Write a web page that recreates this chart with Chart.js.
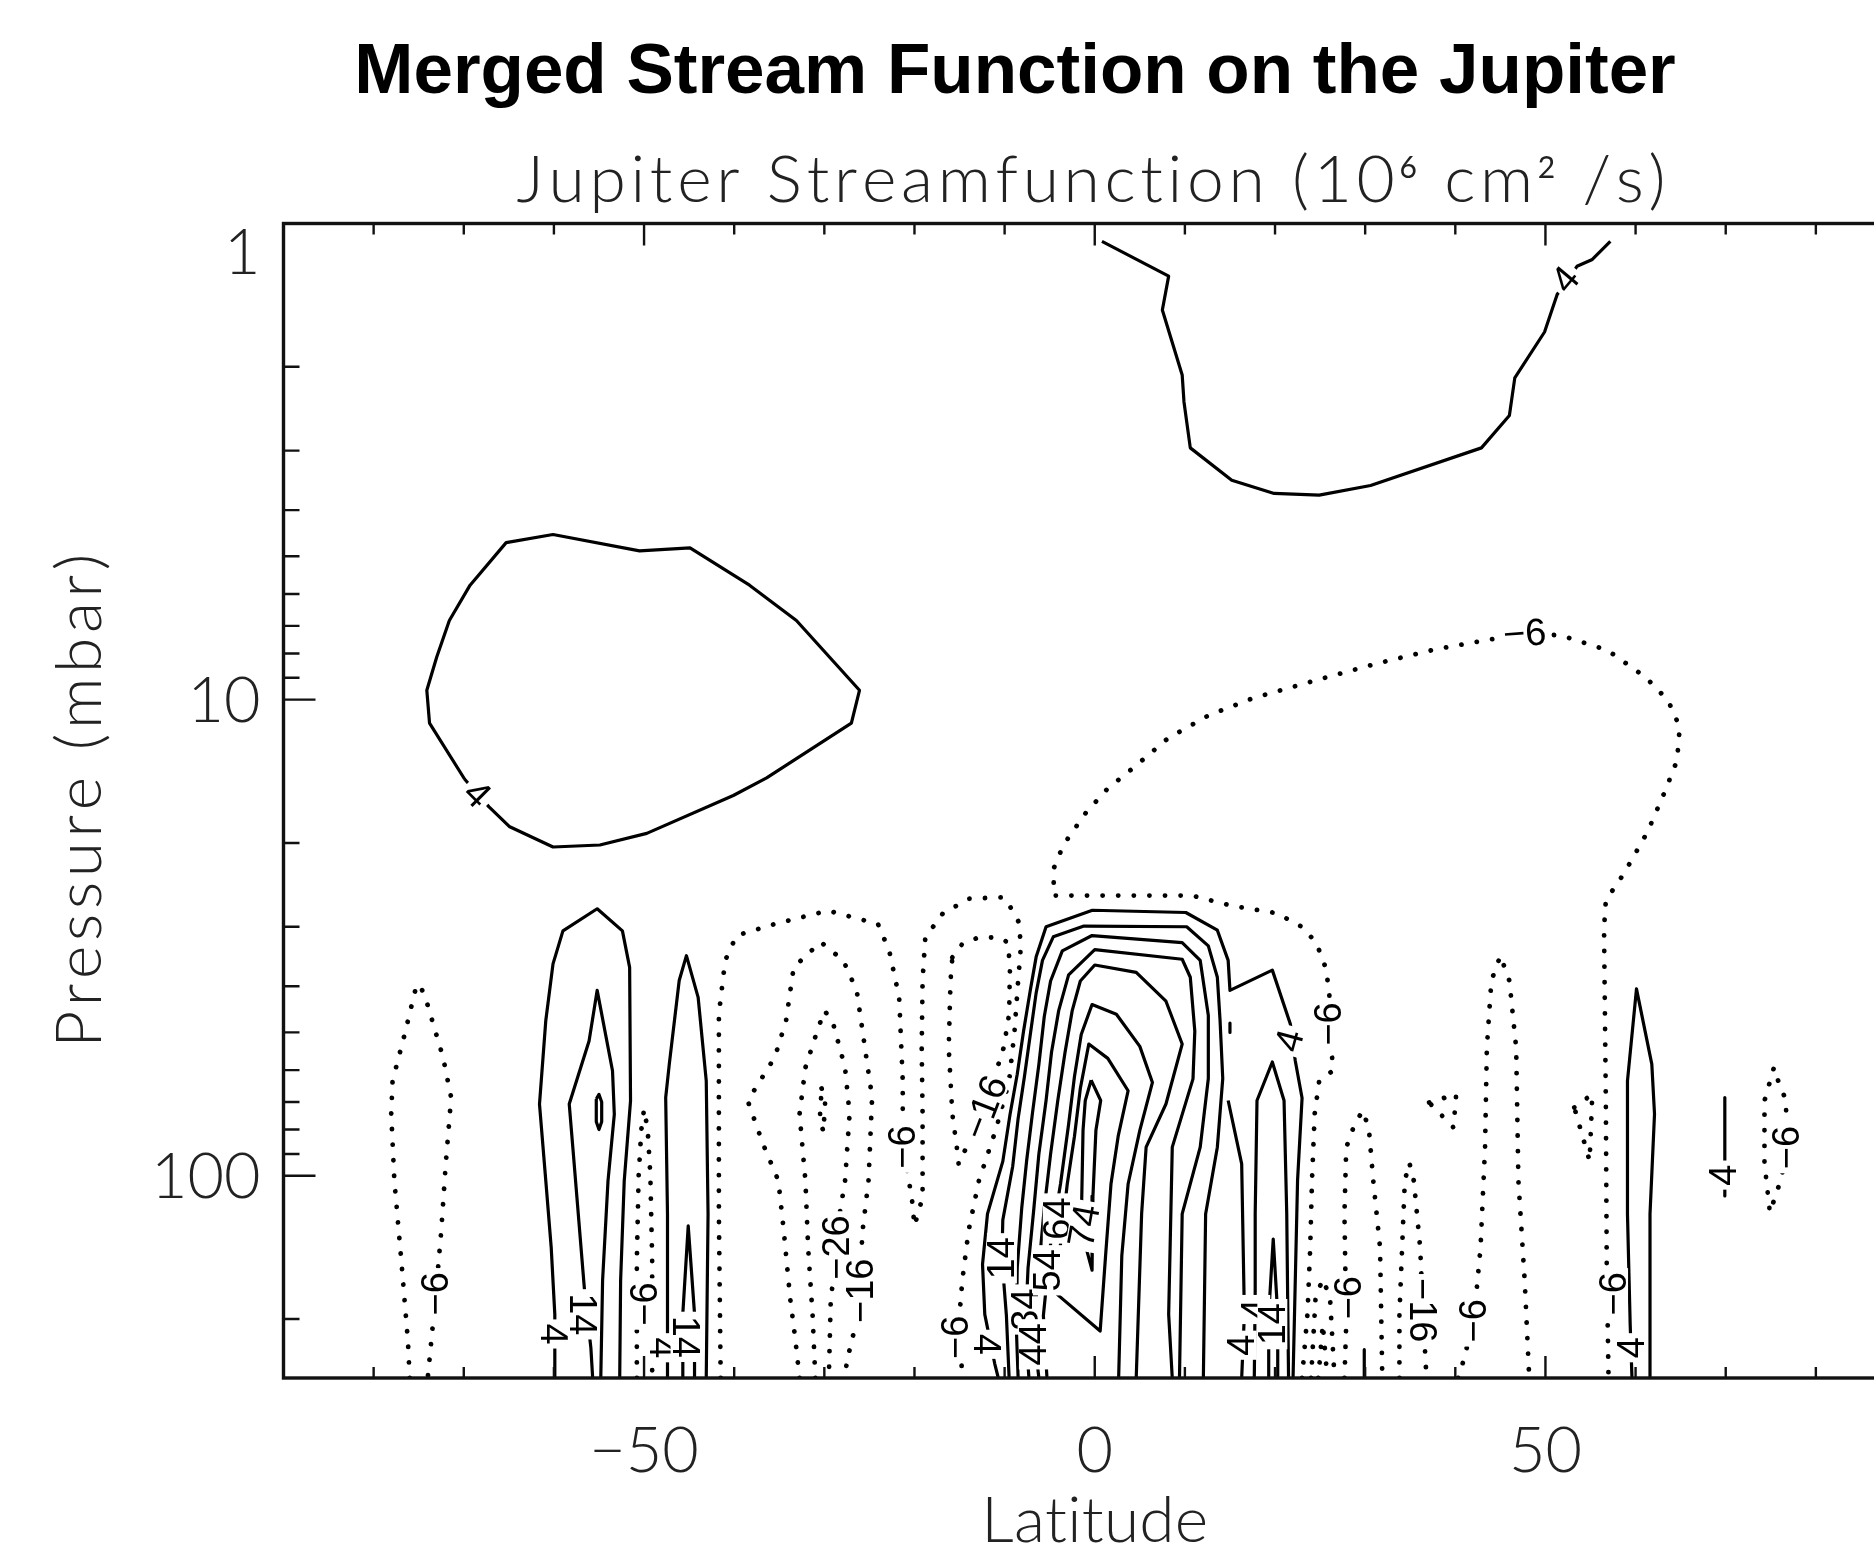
<!DOCTYPE html>
<html>
<head>
<meta charset="utf-8">
<script src="https://cdn.jsdelivr.net/npm/chart.js@4.4.1/dist/chart.umd.min.js"></script>
<style>
  html, body { margin: 0; padding: 0; background: #fff; overflow: hidden; }
  #wrap { width: 1874px; height: 1549px; overflow: hidden; }
  canvas { display: block; }
</style>
</head>
<body>
<div id="wrap"><canvas id="streamChart" width="2030" height="1549"></canvas></div>
<script>
// axis ticks and labels
const latTicks = [-80, -70, -60, -50, -40, -30, -20, -10, 0, 10, 20, 30, 40, 50, 60, 70, 80];
const latLabels = [-50, 0, 50];
const pressureTicks = [1, 2, 3, 4, 5, 6, 7, 8, 9, 10, 20, 30, 40, 50, 60, 70, 80, 90, 100, 200];
const pressureLabels = [1, 10, 100];

// contour lines, [latitude, pressure mbar]
const psiTop4 = [[0.8,1.09],[8.2,1.29],[7.5,1.52],[9.7,2.08],[9.9,2.37],[10.6,2.96],[15.2,3.46],[19.9,3.69],[24.9,3.72],[30.6,3.55],[42.9,2.96],[46.0,2.53],[46.6,2.11],[49.9,1.69],[51.3,1.41],[53.5,1.23],[55.2,1.19],[57.2,1.09]];
const psiWest4 = [[-69.9,14.7],[-73.8,11.2],[-74.1,9.56],[-73.0,8.14],[-71.6,6.82],[-69.3,5.75],[-65.3,4.68],[-60.1,4.50],[-50.5,4.87],[-44.9,4.80],[-38.3,5.75],[-33.1,6.82],[-26.1,9.56],[-27.0,11.2],[-36.4,14.6],[-40.1,15.9],[-49.7,19.1],[-54.9,20.2],[-60.1,20.4],[-64.9,18.5],[-67.2,16.8],[-69.9,14.7]];
const psiArchNeg6 = [[23.0,266],[23.6,195],[23.9,142],[24.1,102.5],[24.4,74.1],[24.9,63.2],[26.4,60.2],[26.0,40.8],[25.6,36.5],[24.6,32.5],[23.1,30.1],[20.2,28.1],[15.2,27.1],[10.8,25.8],[-4.6,25.8],[-4.5,22.5],[-3.8,20.9],[-3.0,19.6],[-1.0,17.3],[1.4,15.4],[4.2,13.95],[8.1,12.07],[12.6,10.8],[17.5,9.94],[24.5,9.11],[31.4,8.39],[37.8,7.84],[43.3,7.51],[47.7,7.26],[51.7,7.33],[56.9,7.88],[61.1,8.97],[63.6,10.04],[64.9,11.42],[64.6,13.42],[63.3,15.52],[61.3,19.0],[58.7,23.2],[56.7,26.4],[56.5,30.3],[56.7,69.6],[56.8,154.6],[56.9,202],[57.0,266]];
const psiFarWestNeg6 = [[-76.0,266],[-76.2,222],[-76.9,153],[-77.7,102.5],[-78.05,74.2],[-77.9,63.2],[-76.6,50.8],[-75.3,40.2],[-74.9,39.6],[-74.2,42.6],[-72.3,56.4],[-71.4,68.5],[-72.0,94.5],[-72.5,130.6],[-73.1,177],[-73.6,222],[-74.0,266]];
const psiSouth4 = [[-59.9,266],[-59.9,237],[-59.9,195.5],[-60.3,141.6],[-60.9,102.5],[-61.6,70.7],[-60.9,47.2],[-60.1,35.9],[-59.0,30.6],[-55.2,27.5],[-52.4,30.6],[-51.6,36.5],[-51.5,69.6],[-52.2,102.5],[-52.6,166],[-52.7,266]];
const psiSouth14 = [[-55.7,266],[-55.9,230],[-56.6,174.6],[-57.9,87.3],[-58.3,70.7],[-56.1,52.1],[-55.2,40.8],[-53.5,60.2],[-53.3,74.3],[-54.0,102.5],[-54.6,166],[-54.8,266]];
const psiSouth24 = [[-55.3,69],[-55.0,67.5],[-54.7,70],[-54.7,77],[-55.0,80],[-55.3,77],[-55.3,69]];
const psiNarrowNeg6 = [[-50.8,266],[-50.8,150],[-50.6,100],[-50.3,80],[-50.0,72.5],[-49.6,80],[-49.3,100],[-49.1,150],[-49.1,266]];
const psiMid4 = [[-47.4,266],[-47.4,208],[-47.4,120.3],[-47.6,68.5],[-47.2,58.3],[-46.1,38.9],[-45.3,34.5],[-44.0,42.2],[-43.1,63.2],[-42.9,120.3],[-43.1,266]];
const psiMid14 = [[-45.7,266],[-45.7,195],[-45.1,127.5],[-44.4,195],[-44.4,266]];
const psiTwinNeg6 = [[-41.5,266],[-41.7,120.3],[-41.7,45.8],[-41.0,35.3],[-39.75,31.3],[-35.5,29.6],[-29.6,27.75],[-24.05,29.6],[-22.8,33.7],[-21.7,42.2],[-21.3,63.3],[-21.3,87.1],[-20.3,111],[-20.0,127.5],[-19.1,111],[-19.1,74.2],[-19.2,53.8],[-19.1,38.95],[-18.8,31.6],[-16.9,28.2],[-14.0,26.2],[-10.1,26.0],[-9.35,27.3],[-8.4,29.4],[-8.2,33.1],[-8.5,38.96],[-8.9,49.7],[-9.5,63.3],[-11.0,80.3],[-12.85,102.4],[-14.0,130.5],[-14.7,166.4],[-15.0,195.6],[-15.4,218.4],[-14.8,245.1],[-14.7,266]];
const psiWestNeg16 = [[-32.75,266],[-33.2,222.2],[-33.8,180.4],[-34.5,130.5],[-35.1,102.4],[-36.8,85.8],[-38.5,69.6],[-35.5,56.4],[-34.25,47.3],[-33.4,36.5],[-30.4,32.3],[-27.9,35.3],[-26.4,40.9],[-25.5,53.8],[-24.7,68.5],[-25.1,102.5],[-25.8,132.7],[-26.0,174.5],[-26.6,208.5],[-27.5,245.1],[-27.7,266]];
const psiWestNeg26 = [[-31.0,266],[-31.3,196.8],[-31.8,141.5],[-32.1,102.4],[-32.75,74.2],[-32.1,59.3],[-30.9,50.4],[-30.0,45.0],[-29.1,47.3],[-27.7,59.3],[-27.2,74.2],[-27.7,102.5],[-28.3,120.4],[-28.7,141.5],[-29.3,185.7],[-29.5,266]];
const psiWestNeg36 = [[-30.3,65.6],[-29.9,69.5],[-30.1,80.9],[-30.5,75.8],[-30.3,65.6]];
const psiMidNeg16 = [[-15.8,34.8],[-14.7,32.6],[-12.9,31.6],[-10.65,31.6],[-9.7,32.3],[-9.4,35.9],[-9.5,45.8],[-10.1,53.8],[-12.2,71.9],[-15.1,94.6],[-15.3,87.3],[-15.8,74.2],[-16.2,53.8],[-16.0,38.96],[-15.8,34.8]];
const psiCore4 = [[-10.7,266],[-11.1,248],[-12.2,195.6],[-12.45,153.5],[-11.9,120.3],[-10.2,93.3],[-9.4,74.4],[-8.6,61.2],[-7.9,49.7],[-7.15,40.8],[-6.5,34.7],[-5.4,30.0],[-0.26,27.7],[10.1,28.0],[13.6,30.5],[14.8,35.3],[15.0,40.8],[19.7,37.0],[21.7,48.0],[22.25,57.4],[23.0,68.7],[22.5,102.3],[22.0,266]];
const psiCore14 = [[-9.5,266],[-9.8,196.8],[-10.3,149.1],[-10.2,123.9],[-9.1,95.5],[-8.5,75.8],[-7.8,61.9],[-7.15,50.5],[-6.5,41.3],[-5.8,35.3],[-4.6,31.5],[-1.2,29.9],[10.2,30.0],[12.6,32.9],[13.6,38.3],[13.9,47.1],[14.2,62.5],[13.6,87.1],[12.3,120.3],[12.05,266]];
const psiCore24 = [[-8.5,266],[-8.7,208.5],[-8.6,156.1],[-8.1,116.9],[-7.55,92.8],[-6.9,73.6],[-6.2,58.4],[-5.6,46.3],[-4.9,39.0],[-3.6,33.7],[-0.3,31.3],[9.7,32.4],[11.7,35.3],[12.6,46.1],[12.6,62.5],[11.7,87.1],[9.7,120.3],[9.4,266]];
const psiCore34 = [[-7.3,266],[-7.7,208.5],[-7.4,156.1],[-6.75,116.9],[-6.2,90.1],[-5.4,69.5],[-4.8,55.1],[-4.0,45.0],[-2.9,37.85],[0,33.5],[9.7,35.1],[10.6,38.3],[11.1,49.7],[10.9,62.6],[8.6,87.1],[8.2,195.6],[8.6,266]];
const psiCore44 = [[-6.2,266],[-6.75,214.6],[-6.2,156.1],[-5.6,116.9],[-4.9,90.1],[-4.1,69.5],[-3.3,55.1],[-2.5,45.0],[-1.6,39.0],[0,36.1],[4.6,37.4],[7.9,43.0],[9.7,52.9],[7.9,70.7],[5.7,87.1],[5.2,120.3],[4.6,266]];
const psiCore54 = [[-5.3,266],[-5.7,196.8],[-4.9,139.1],[-3.8,104.1],[-2.9,78.0],[-2.25,61.9],[-1.5,50.5],[-0.3,43.7],[2.4,45.8],[5.0,53.5],[6.4,63.7],[5.0,80.3],[3.7,104.1],[3.0,147.4],[2.65,266]];
const psiCore64 = [[-4.2,177.3],[-3.8,139.1],[-3.05,104.1],[-2.25,82.6],[-1.6,65.6],[-0.66,52.9],[1.45,56.7],[3.7,66.3],[2.6,82.6],[1.8,104.1],[1.2,147.4],[0.6,212],[-4.2,177.3]];
const psiCore74 = [[-0.4,63.0],[0.66,69.5],[0.13,80.3],[-0.2,110.3],[-0.3,157.9],[-0.9,143.2],[-1.45,113.6],[-1.3,80.3],[-1.05,69.5],[-0.4,63.0]];
const psiEq4a = [[14.8,69.5],[16.3,94.4],[16.6,195.6],[16.3,266]];
const psiEq4b = [[17.7,266],[17.8,174.3],[17.8,120.3],[18.0,69.5],[19.7,57.7],[21.0,69.5],[21.3,120.3],[21.5,266]];
const psiEq14 = [[19.3,266],[19.3,195.6],[19.8,135.9],[20.3,195.6],[20.3,266]];
const psiEqDot = [[15.0,47.8],[15.0,50.0]];
const psiEastNeg16 = [[24.0,266],[24.5,180],[25.3,165],[26.1,180],[26.6,266]];
const psiEastNeg26 = [[24.8,266],[25.3,205],[25.8,266]];
const psiEastNeg6a = [[27.7,266],[27.9,205],[27.7,120.4],[27.9,87.3],[28.7,79.2],[29.7,73.0],[30.4,79.2],[30.9,102.5],[31.65,141.5],[31.9,266]];
const psiStub30 = [[29.9,232],[29.9,266]];
const psiEastNeg16b = [[33.8,266],[33.8,195.6],[34.1,141.5],[34.4,102.5],[34.9,93.9],[35.4,102.5],[36.1,141.5],[36.4,191.7],[36.8,266]];
const psiTriA = [[37.1,70.2],[40.1,67.4],[39.8,79.2],[37.1,70.2]];
const psiEastNeg6b = [[40.3,266],[40.8,248.5],[42.05,201.8],[42.8,141.5],[43.3,87.3],[43.5,53.8],[44.0,38.96],[45.0,34.5],[46.0,38.96],[46.75,53.8],[47.0,102.5],[47.7,166.4],[48.2,266]];
const psiTriB = [[53.2,71.9],[55.2,67.4],[54.9,93.1],[53.2,71.9]];
const psiNorth4 = [[59.6,266],[59.4,205.2],[59.1,120.4],[59.1,63.2],[60.1,40.5],[61.8,58.3],[62.1,74.2],[61.6,120.4],[61.6,266]];
const psiNorth4b = [[69.9,68.5],[69.9,110.3]];
const psiNorthNeg6 = [[75.3,59.7],[74.3,69.6],[74.3,94.0],[74.9,119.5],[76.2,100.9],[76.7,87.3],[76.7,69.6],[75.3,59.7]];

const contours = [
  [4, psiTop4], [4, psiWest4], [-6, psiArchNeg6], [-6, psiFarWestNeg6],
  [4, psiSouth4], [14, psiSouth14], [24, psiSouth24], [-6, psiNarrowNeg6],
  [4, psiMid4], [14, psiMid14], [-6, psiTwinNeg6], [-16, psiWestNeg16],
  [-26, psiWestNeg26], [-36, psiWestNeg36], [-16, psiMidNeg16],
  [4, psiCore4], [14, psiCore14], [24, psiCore24], [34, psiCore34], [44, psiCore44],
  [54, psiCore54], [64, psiCore64], [74, psiCore74],
  [4, psiEq4a], [4, psiEq4b], [14, psiEq14], [4, psiEqDot],
  [-16, psiEastNeg16], [-26, psiEastNeg26], [-6, psiEastNeg6a], [4, psiStub30],
  [-16, psiEastNeg16b], [-6, psiTriA], [-6, psiEastNeg6b], [-6, psiTriB],
  [4, psiNorth4], [4, psiNorth4b], [-6, psiNorthNeg6]
];

// contour labels: text, latitude, pressure, angle
const contourLabels = [
  ['4', 52.2, 1.31, -50], ['4', -68.5, 15.8, 45], ['\u22126', 47.7, 7.26, -4],
  ['\u22126', 25.9, 48.0, -90], ['\u22126', 57.5, 177, -90], ['4', 21.6, 52.0, -75],
  ['\u22126', -73.1, 177, -90], ['4', -60.1, 215, 90], ['14', -56.8, 195.5, 90],
  ['\u22126', -49.9, 186, -90], ['4', -48.0, 229.8, 90], ['14', -45.4, 218, 90],
  ['\u22126', -21.3, 87.1, -90], ['\u221226', -28.7, 141.5, -90], ['\u221216', -26.0, 174.5, -90],
  ['\u221216', -12.2, 71.9, -69], ['\u22126', -15.4, 218.4, -90], ['4', -12.05, 226, 90],
  ['14', -10.3, 149.1, -90], ['34', -7.7, 191, -90], ['44', -6.75, 226, -90],
  ['54', -5.2, 158, -90], ['64', -4.1, 123, -90], ['74', -1.2, 127.5, -80],
  ['4', 16.3, 227, -90], ['4', 17.8, 191, -90], ['14', 19.7, 205, -90],
  ['\u22126', 28.2, 180.4, -90], ['\u221216', 36.4, 191.7, 90], ['\u22126', 42.0, 201.8, -90],
  ['4', 59.6, 229.8, -90], ['4', 69.7, 99.7, -90], ['\u22126', 76.7, 87.3, -90]
];

const lightFont = size => '300 ' + size + 'px Lato, "DejaVu Sans", sans-serif';

function spacedText(ctx, text, cx, y, target) {
  const chars = Array.from(text);
  const widths = chars.map(c => ctx.measureText(c).width);
  const natural = widths.reduce((a, b) => a + b, 0);
  const gap = (target - natural) / Math.max(chars.length - 1, 1);
  let x = cx - target / 2;
  ctx.textAlign = 'left';
  chars.forEach((c, i) => { ctx.fillText(c, x, y); x += widths[i] + gap; });
}

const framePlugin = {
  id: 'idlFrame',
  afterDatasetsDraw(chart) {
    const ctx = chart.ctx, xs = chart.scales.x, ys = chart.scales.y;
    ctx.save();
    ctx.font = '38px "Liberation Sans", Arial, sans-serif';
    ctx.textAlign = 'center';
    ctx.textBaseline = 'middle';
    contourLabels.forEach(([t, lat, p, ang]) => {
      const w = ctx.measureText(t).width;
      ctx.save();
      ctx.translate(xs.getPixelForValue(lat), ys.getPixelForValue(p));
      ctx.rotate(ang * Math.PI / 180);
      ctx.fillStyle = '#fff';
      ctx.fillRect(-w / 2 - 4, -15, w + 8, 30);
      ctx.fillStyle = '#000';
      ctx.fillText(t, 0, 2);
      ctx.restore();
    });
    ctx.restore();
  },
  afterDraw(chart) {
    const ctx = chart.ctx, xs = chart.scales.x, ys = chart.scales.y, a = chart.chartArea;
    ctx.save();
    ctx.strokeStyle = '#111';
    ctx.lineWidth = 2.4;
    ctx.beginPath();
    latTicks.forEach(t => {
      const x = xs.getPixelForValue(t);
      const len = t % 50 === 0 ? 22 : 11;
      ctx.moveTo(x, a.top); ctx.lineTo(x, a.top + len);
      ctx.moveTo(x, a.bottom); ctx.lineTo(x, a.bottom - len);
    });
    pressureTicks.forEach(p => {
      const y = ys.getPixelForValue(p);
      const len = pressureLabels.includes(p) ? 32 : 16;
      ctx.moveTo(a.left, y); ctx.lineTo(a.left + len, y);
      ctx.moveTo(a.right, y); ctx.lineTo(a.right - len, y);
    });
    ctx.stroke();
    ctx.lineWidth = 3.4;
    ctx.strokeRect(a.left, a.top, a.right - a.left, a.bottom - a.top);

    // tick labels
    ctx.fillStyle = '#222';
    ctx.font = lightFont(63);
    ctx.textBaseline = 'alphabetic';
    ctx.textAlign = 'center';
    latLabels.forEach(v => {
      ctx.fillText(v < 0 ? '\u2212' + Math.abs(v) : String(v), xs.getPixelForValue(v), a.bottom + 94);
    });
    ctx.textAlign = 'right';
    pressureLabels.forEach(v => {
      const y = Math.max(ys.getPixelForValue(v), a.top + 28);
      ctx.fillText(String(v), a.left - 23, y + 22);
    });

    // axis titles
    ctx.font = lightFont(64);
    spacedText(ctx, 'Latitude', (a.left + a.right) / 2, 1542, 227);
    ctx.save();
    ctx.translate(101, (a.top + a.bottom) / 2);
    ctx.rotate(-Math.PI / 2);
    spacedText(ctx, 'Pressure (mbar)', 0, 0, 494);
    ctx.restore();

    // subtitle with superscripts
    const parts = [['Jupiter Streamfunction (10', 0], ['6', 1], [' cm', 0], ['2', 1], [' /s)', 0]];
    const glyphs = [];
    parts.forEach(([s, sup]) => Array.from(s).forEach(c => glyphs.push([c, sup])));
    const supFont = '400 30px Lato, sans-serif';
    const widths = glyphs.map(([c, sup]) => {
      ctx.font = sup ? supFont : lightFont(66);
      return ctx.measureText(c).width;
    });
    const natural = widths.reduce((s, w) => s + w, 0);
    const gap = (1149 - natural) / (glyphs.length - 1);
    let x = 1091 - 1149 / 2;
    ctx.textAlign = 'left';
    glyphs.forEach(([c, sup], i) => {
      ctx.font = sup ? supFont : lightFont(66);
      ctx.fillText(c, x, sup ? 178 : 202);
      x += widths[i] + gap;
    });

    // main title
    ctx.fillStyle = '#000';
    ctx.font = 'bold 71px "Liberation Sans", Arial, sans-serif';
    ctx.textAlign = 'center';
    ctx.fillText('Merged Stream Function on the Jupiter', chart.width / 2, 93);
    ctx.restore();
  }
};

const datasets = contours.map(([level, pts]) => ({
  label: String(level),
  data: pts.map(([x, y]) => ({ x, y })),
  showLine: true,
  borderColor: '#000',
  borderWidth: level < 0 ? 4.8 : 3.2,
  borderDash: level < 0 ? [0.1, 15.5] : [],
  borderCapStyle: level < 0 ? 'round' : 'butt',
  borderJoinStyle: 'round',
  pointRadius: 0,
  tension: 0,
  fill: false
}));

new Chart(document.getElementById('streamChart').getContext('2d'), {
  type: 'scatter',
  data: { datasets },
  options: {
    responsive: false,
    animation: false,
    events: [],
    layout: { padding: { left: 283.5, right: 124, top: 223.5, bottom: 171 } },
    plugins: { legend: { display: false }, title: { display: false }, tooltip: { enabled: false } },
    scales: {
      x: { type: 'linear', min: -90, max: 90, display: false },
      y: { type: 'logarithmic', min: 1, max: 266, reverse: true, display: false }
    }
  },
  plugins: [framePlugin]
});
</script>
</body>
</html>
